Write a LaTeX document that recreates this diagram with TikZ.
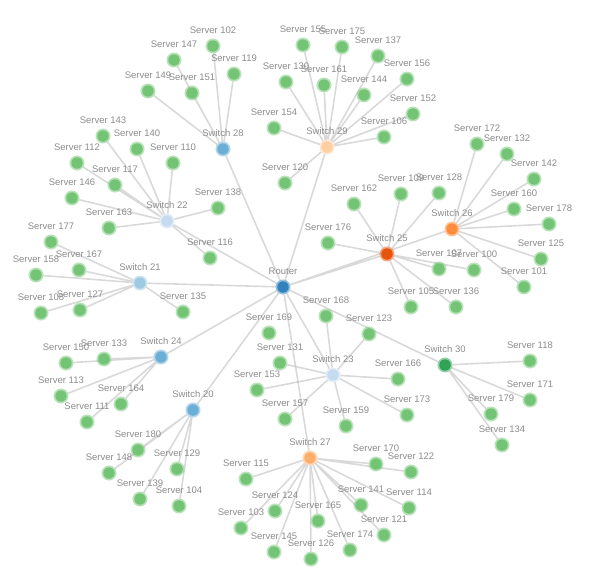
\documentclass[tikz,border=0pt]{standalone}
\usepackage{fontspec}
\setmainfont{Liberation Sans}
\usetikzlibrary{backgrounds}
\definecolor{labgray}{RGB}{140,140,140}
\definecolor{linkgray}{RGB}{180,180,180}
\definecolor{srvgreen}{HTML}{74C476}
\definecolor{routerblue}{HTML}{3182BD}
\definecolor{blueA}{HTML}{6BAED6}
\definecolor{blueB}{HTML}{9ECAE1}
\definecolor{blueC}{HTML}{C6DBEF}
\definecolor{orangeA}{HTML}{E6550D}
\definecolor{orangeB}{HTML}{FD8D3C}
\definecolor{orangeC}{HTML}{FDAE6B}
\definecolor{orangeD}{HTML}{FDD0A2}
\definecolor{greenA}{HTML}{31A354}
\tikzset{
  dev/.style={circle, inner sep=0pt, minimum size=11.5pt, line width=3.5pt,
    fill=#1, draw=#1, draw opacity=0.5},
  lab/.style={inner sep=0pt, text=labgray, font=\fontsize{9.5}{11}\selectfont},
  srv/.style={dev=srvgreen, label={[lab]above:Server #1}},
  sw/.style 2 args={dev=#2, label={[lab]above:Switch #1}},
  link/.style={draw=linkgray, line width=1.6pt, draw opacity=0.5},
}
\begin{document}
\begin{tikzpicture}[x=1pt,y=-1pt,label distance=5pt]
\useasboundingbox (0,0) rectangle (600,574);
% router and switches
\node[dev=routerblue, label={[lab]above:Router}] (router) at (283,287) {};
\node[sw={28}{blueA}] (sw28) at (223,149) {};
\node[sw={29}{orangeD}] (sw29) at (327,147) {};
\node[sw={22}{blueC}] (sw22) at (167,221) {};
\node[sw={21}{blueB}] (sw21) at (140,283) {};
\node[sw={24}{blueA}] (sw24) at (161,357) {};
\node[sw={20}{blueA}] (sw20) at (193,410) {};
\node[sw={25}{orangeA}] (sw25) at (387,254) {};
\node[sw={26}{orangeB}] (sw26) at (452,229) {};
\node[sw={23}{blueC}] (sw23) at (333,375) {};
\node[sw={30}{greenA}] (sw30) at (445,365) {};
\node[sw={27}{orangeC}] (sw27) at (310,458) {};
% servers of switch 28
\node[srv=102] (s102) at (213,46) {};
\node[srv=147] (s147) at (174,60) {};
\node[srv=149] (s149) at (148,91) {};
\node[srv=151] (s151) at (192,93) {};
\node[srv=119] (s119) at (234,74) {};
% servers of switch 29
\node[srv=155] (s155) at (303,45) {};
\node[srv=175] (s175) at (342,47) {};
\node[srv=137] (s137) at (378,56) {};
\node[srv=156] (s156) at (407,79) {};
\node[srv=130] (s130) at (286,82) {};
\node[srv=161] (s161) at (324,85) {};
\node[srv=144] (s144) at (364,95) {};
\node[srv=152] (s152) at (413,114) {};
\node[srv=106] (s106) at (384,137) {};
\node[srv=154] (s154) at (274,128) {};
\node[srv=120] (s120) at (285,183) {};
% servers of switch 22
\node[srv=143] (s143) at (103,136) {};
\node[srv=140] (s140) at (137,149) {};
\node[srv=110] (s110) at (173,163) {};
\node[srv=112] (s112) at (77,163) {};
\node[srv=117] (s117) at (115,185) {};
\node[srv=146] (s146) at (72,198) {};
\node[srv=163] (s163) at (109,228) {};
\node[srv=138] (s138) at (218,208) {};
\node[srv=116] (s116) at (210,258) {};
% servers of switch 21
\node[srv=177] (s177) at (51,242) {};
\node[srv=167] (s167) at (79,270) {};
\node[srv=158] (s158) at (36,275) {};
\node[srv=108] (s108) at (41,313) {};
\node[srv=127] (s127) at (80,310) {};
\node[srv=135] (s135) at (183,312) {};
% servers of switch 24
\node[srv=150] (s150) at (66,363) {};
\node[srv=133] (s133) at (104,359) {};
\node[srv=113] (s113) at (61,396) {};
\node[srv=164] (s164) at (121,404) {};
\node[srv=111] (s111) at (87,422) {};
% servers of switch 20
\node[srv=180] (s180) at (138,450) {};
\node[srv=148] (s148) at (109,473) {};
\node[srv=129] (s129) at (177,469) {};
\node[srv=139] (s139) at (140,499) {};
\node[srv=104] (s104) at (179,506) {};
% servers of switch 25
\node[srv=162] (s162) at (354,204) {};
\node[srv=109] (s109) at (401,194) {};
\node[srv=128] (s128) at (439,193) {};
\node[srv=176] (s176) at (328,243) {};
\node[srv=107] (s107) at (439,269) {};
\node[srv=100] (s100) at (474,270) {};
\node[srv=105] (s105) at (411,307) {};
\node[srv=136] (s136) at (456,307) {};
% servers of switch 26
\node[srv=172] (s172) at (477,144) {};
\node[srv=132] (s132) at (507,154) {};
\node[srv=142] (s142) at (534,179) {};
\node[srv=160] (s160) at (514,209) {};
\node[srv=178] (s178) at (549,224) {};
\node[srv=125] (s125) at (541,259) {};
\node[srv=101] (s101) at (524,287) {};
% servers of switch 23
\node[srv=168] (s168) at (326,316) {};
\node[srv=123] (s123) at (369,334) {};
\node[srv=169] (s169) at (269,333) {};
\node[srv=131] (s131) at (280,363) {};
\node[srv=153] (s153) at (257,390) {};
\node[srv=166] (s166) at (398,379) {};
\node[srv=173] (s173) at (407,415) {};
\node[srv=157] (s157) at (285,419) {};
\node[srv=159] (s159) at (346,426) {};
% servers of switch 30
\node[srv=118] (s118) at (530,361) {};
\node[srv=171] (s171) at (530,400) {};
\node[srv=179] (s179) at (491,414) {};
\node[srv=134] (s134) at (502,445) {};
% servers of switch 27
\node[srv=170] (s170) at (376,464) {};
\node[srv=122] (s122) at (411,472) {};
\node[srv=115] (s115) at (246,479) {};
\node[srv=141] (s141) at (361,505) {};
\node[srv=114] (s114) at (409,508) {};
\node[srv=124] (s124) at (275,511) {};
\node[srv=165] (s165) at (318,521) {};
\node[srv=103] (s103) at (241,528) {};
\node[srv=121] (s121) at (384,535) {};
\node[srv=145] (s145) at (274,552) {};
\node[srv=126] (s126) at (311,559) {};
\node[srv=174] (s174) at (350,550) {};
% links
\begin{scope}[on background layer]
\draw[link] (router)--(sw28) (router)--(sw29) (router)--(sw22) (router)--(sw21)
  (router)--(sw24) (router)--(sw20) (router)--(sw25) (router)--(sw26)
  (router)--(sw23) (router)--(sw30) (router)--(sw27);
\draw[link] (sw28)--(s102) (sw28)--(s147) (sw28)--(s149) (sw28)--(s151) (sw28)--(s119);
\draw[link] (sw29)--(s155) (sw29)--(s175) (sw29)--(s137) (sw29)--(s156) (sw29)--(s130)
  (sw29)--(s161) (sw29)--(s144) (sw29)--(s152) (sw29)--(s106) (sw29)--(s154) (sw29)--(s120);
\draw[link] (sw22)--(s143) (sw22)--(s140) (sw22)--(s110) (sw22)--(s112) (sw22)--(s117)
  (sw22)--(s146) (sw22)--(s163) (sw22)--(s138) (sw22)--(s116);
\draw[link] (sw21)--(s177) (sw21)--(s167) (sw21)--(s158) (sw21)--(s108) (sw21)--(s127) (sw21)--(s135);
\draw[link] (sw24)--(s150) (sw24)--(s133) (sw24)--(s113) (sw24)--(s164) (sw24)--(s111);
\draw[link] (sw20)--(s180) (sw20)--(s148) (sw20)--(s129) (sw20)--(s139) (sw20)--(s104);
\draw[link] (sw25)--(s162) (sw25)--(s109) (sw25)--(s128) (sw25)--(s176) (sw25)--(s107)
  (sw25)--(s100) (sw25)--(s105) (sw25)--(s136);
\draw[link] (sw26)--(s172) (sw26)--(s132) (sw26)--(s142) (sw26)--(s160) (sw26)--(s178)
  (sw26)--(s125) (sw26)--(s101);
\draw[link] (sw23)--(s168) (sw23)--(s123) (sw23)--(s131) (sw23)--(s153) (sw23)--(s166)
  (sw23)--(s173) (sw23)--(s157) (sw23)--(s159);
\draw[link] (sw30)--(s118) (sw30)--(s171) (sw30)--(s179) (sw30)--(s134);
\draw[link] (sw27)--(s170) (sw27)--(s122) (sw27)--(s115) (sw27)--(s141) (sw27)--(s114)
  (sw27)--(s124) (sw27)--(s165) (sw27)--(s103) (sw27)--(s121) (sw27)--(s145)
  (sw27)--(s126) (sw27)--(s174);
\end{scope}
\end{tikzpicture}
\end{document}
